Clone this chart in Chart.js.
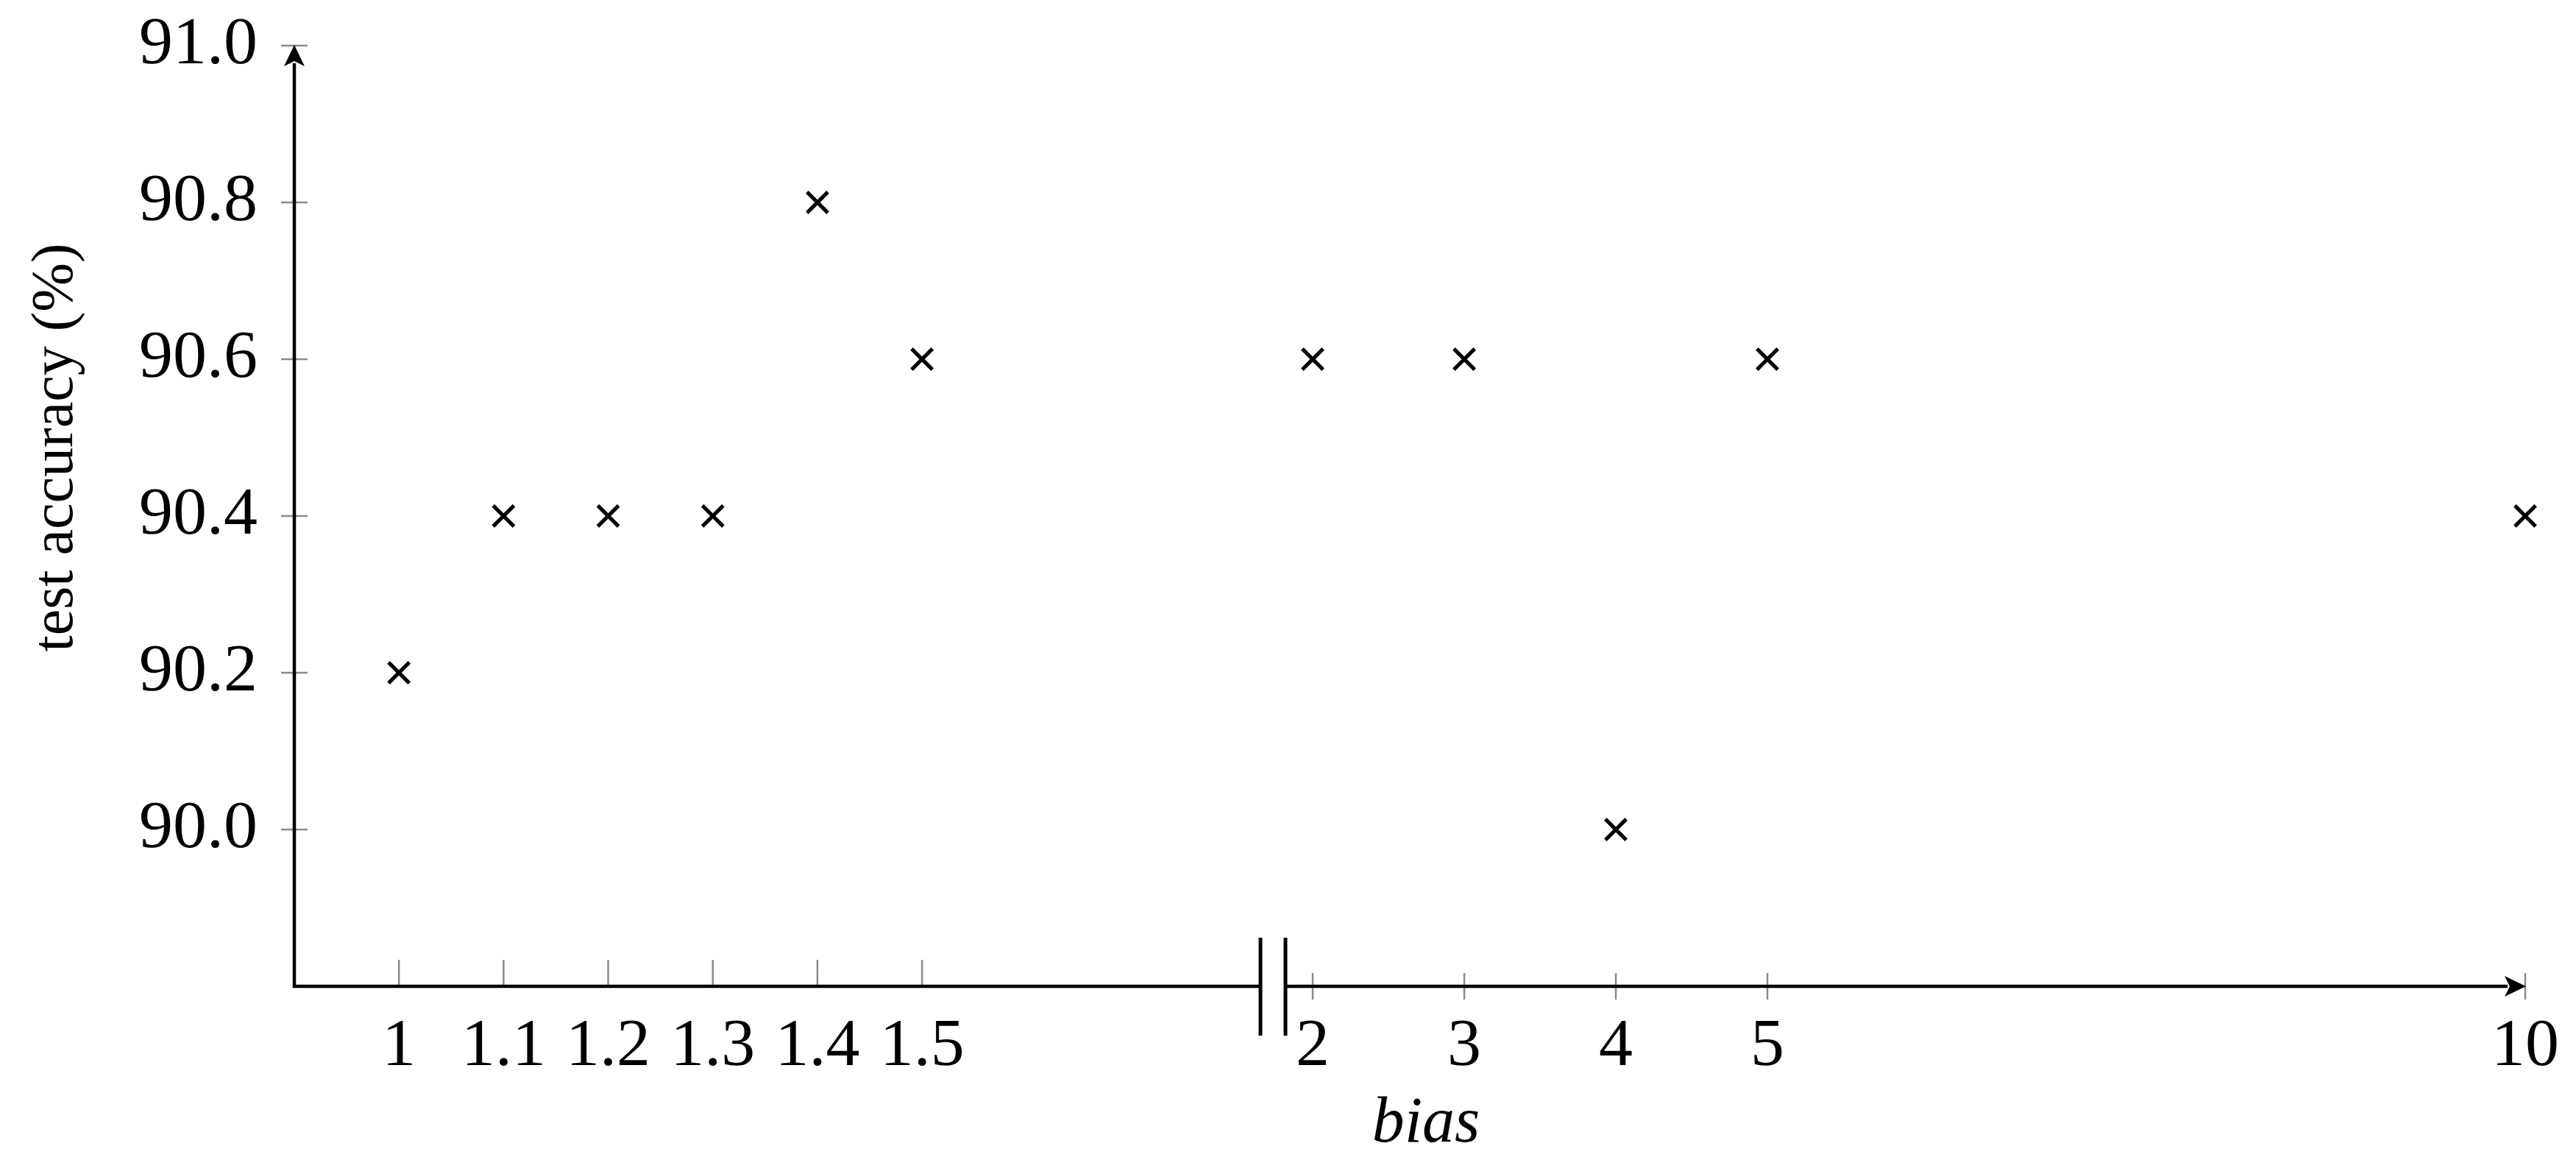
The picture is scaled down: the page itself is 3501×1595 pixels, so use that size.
<!DOCTYPE html>
<html>
<head>
<meta charset="utf-8">
<script src="https://cdn.jsdelivr.net/npm/chart.js@4.4.1/dist/chart.umd.min.js"></script>
<style>
  html, body { margin: 0; padding: 0; background: #fff; }
  canvas { display: block; }
</style>
</head>
<body>
<canvas id="biasChart" width="3501" height="1595"></canvas>
<script>
// Test accuracy vs. bias (broken x axis between 1.5 and 2)

const biasValues = [1, 1.1, 1.2, 1.3, 1.4, 1.5, 2, 3, 4, 5, 10];
const accuracy = [90.2, 90.4, 90.4, 90.4, 90.8, 90.6, 90.6, 90.6, 90.0, 90.6, 90.4];

const xTickBias = [1, 1.1, 1.2, 1.3, 1.4, 1.5, 2, 3, 4, 5, 10];
const xTickLabels = ['1', '1.1', '1.2', '1.3', '1.4', '1.5', '2', '3', '4', '5', '10'];
const yTicks = [90.0, 90.2, 90.4, 90.6, 90.8, 91.0];

const xTitle = 'bias';
const yTitle = 'test accuracy (%)';

// broken axis: left part 0.1 bias per unit, right part stretched less
const LEFT_MAX = 1.5;
const RIGHT_START = 8.734;   // axis unit where bias 2 sits
const RIGHT_SCALE = 1.4487;  // axis units per 1 bias on the right part
const BREAK_AT = 8.354;      // axis unit of the // mark

function toAxis(b) {
    if (b <= LEFT_MAX) return (b - 1) * 10;
    return RIGHT_START + (b - 2) * RIGHT_SCALE;
}

const FONT = "'Liberation Serif', 'DejaVu Serif', serif";

function line(ctx, x1, y1, x2, y2) {
    ctx.beginPath();
    ctx.moveTo(x1, y1);
    ctx.lineTo(x2, y2);
    ctx.stroke();
}

const brokenAxes = {
    id: 'brokenAxes',
    beforeDatasetsDraw(chart) {
        const { ctx, chartArea: a, scales: { x, y } } = chart;
        ctx.save();

        // tick marks (gray)
        ctx.strokeStyle = '#8a8a8a';
        ctx.lineWidth = 2.5;
        yTicks.forEach(v => {
            const py = y.getPixelForValue(v);
            line(ctx, a.left - 18, py, a.left + 18, py);
        });
        xTickBias.forEach(b => {
            const px = x.getPixelForValue(toAxis(b));
            if (b <= LEFT_MAX) line(ctx, px, a.bottom - 36, px, a.bottom);
            else line(ctx, px, a.bottom - 18, px, a.bottom + 18);
        });

        // axis lines
        ctx.strokeStyle = '#000';
        ctx.fillStyle = '#000';
        ctx.lineWidth = 4.5;
        ctx.lineCap = 'butt';
        const bx = x.getPixelForValue(BREAK_AT);
        line(ctx, a.left, a.bottom + 2, a.left, a.top + 24);
        line(ctx, a.left - 2, a.bottom, bx - 17, a.bottom);
        line(ctx, bx + 17, a.bottom, a.right - 24, a.bottom);

        // break marks
        ctx.lineWidth = 5;
        line(ctx, bx - 17, a.bottom - 66, bx - 17, a.bottom + 67);
        line(ctx, bx + 17, a.bottom - 66, bx + 17, a.bottom + 67);

        // arrow heads
        ctx.beginPath();
        ctx.moveTo(a.left, a.top - 1);
        ctx.lineTo(a.left - 14, a.top + 28);
        ctx.lineTo(a.left, a.top + 21);
        ctx.lineTo(a.left + 14, a.top + 28);
        ctx.closePath();
        ctx.fill();

        ctx.beginPath();
        ctx.moveTo(a.right + 1, a.bottom);
        ctx.lineTo(a.right - 28, a.bottom - 14);
        ctx.lineTo(a.right - 21, a.bottom);
        ctx.lineTo(a.right - 28, a.bottom + 14);
        ctx.closePath();
        ctx.fill();

        // axis titles
        ctx.textAlign = 'center';
        ctx.textBaseline = 'alphabetic';
        ctx.font = `italic 88px ${FONT}`;
        ctx.fillText(xTitle, (a.left + a.right) / 2 + 22, a.bottom + 211);

        ctx.translate(98, (a.top + a.bottom) / 2 - 93);
        ctx.rotate(-Math.PI / 2);
        ctx.font = `80px ${FONT}`;
        ctx.fillText(yTitle, 0, 0);

        ctx.restore();
    }
};

const ctx = document.getElementById('biasChart').getContext('2d');

new Chart(ctx, {
    type: 'scatter',
    data: {
        datasets: [{
            label: 'test accuracy',
            data: biasValues.map((b, i) => ({ x: toAxis(b), y: accuracy[i] })),
            pointStyle: 'crossRot',
            pointRadius: 20,
            pointHoverRadius: 20,
            pointBorderWidth: 5,
            borderColor: '#000',
            backgroundColor: '#000',
            showLine: false,
            clip: false
        }]
    },
    options: {
        responsive: false,
        animation: false,
        devicePixelRatio: 1,
        layout: {
            autoPadding: false,
            padding: { top: 62, right: 69, bottom: 0, left: 0 }
        },
        plugins: {
            legend: { display: false },
            tooltip: { enabled: false }
        },
        scales: {
            x: {
                type: 'linear',
                min: -1,
                max: toAxis(10),
                grid: { display: false, drawTicks: false },
                border: { display: false },
                afterBuildTicks: scale => {
                    scale.ticks = xTickBias.map(b => ({ value: toAxis(b) }));
                },
                afterFit: scale => {
                    scale.height = 255;
                    scale.paddingLeft = 0;
                    scale.paddingRight = 0;
                },
                ticks: {
                    autoSkip: false,
                    maxRotation: 0,
                    padding: 28,
                    color: '#000',
                    font: { family: FONT, size: 92 },
                    callback: (v, i) => xTickLabels[i]
                },
                title: { display: false }
            },
            y: {
                type: 'linear',
                min: 89.8,
                max: 91.0,
                grid: { display: false, drawTicks: false },
                border: { display: false },
                afterBuildTicks: scale => {
                    scale.ticks = yTicks.map(v => ({ value: v }));
                },
                afterFit: scale => {
                    scale.width = 400;
                    scale.paddingTop = 0;
                    scale.paddingBottom = 0;
                },
                ticks: {
                    padding: 50,
                    color: '#000',
                    font: { family: FONT, size: 92 },
                    callback: v => v.toFixed(1)
                },
                title: { display: false }
            }
        }
    },
    plugins: [brokenAxes]
});
</script>
</body>
</html>
